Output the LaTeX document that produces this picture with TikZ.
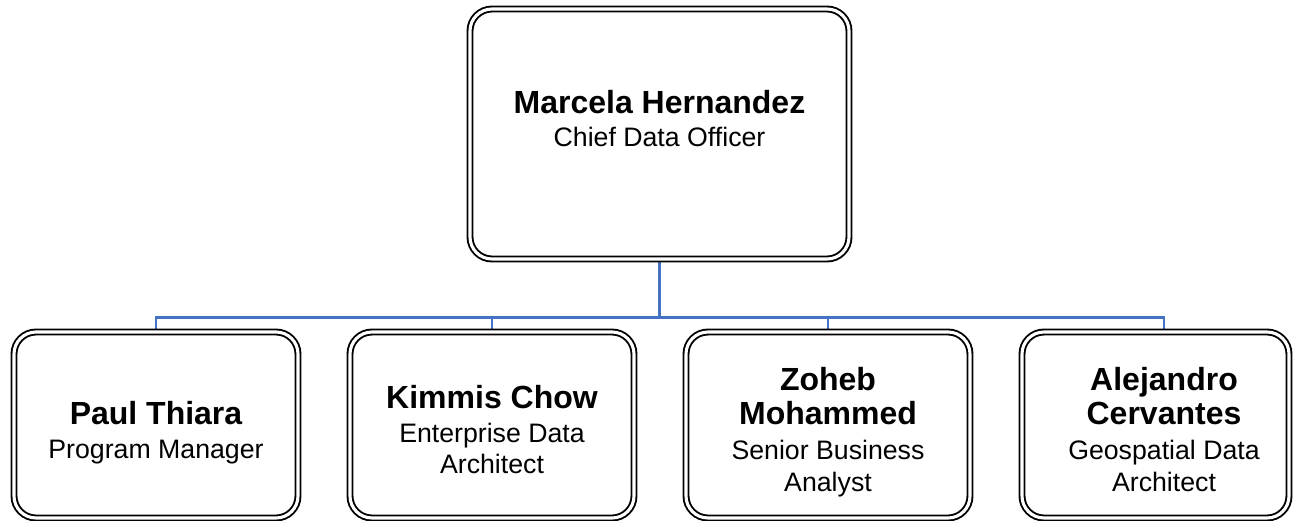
\documentclass[tikz,border=0pt]{standalone}
\usepackage{fontspec}
\setmainfont{Liberation Sans}
\usetikzlibrary{backgrounds}
\definecolor{connblue}{RGB}{68,114,196}
\begin{document}
\begin{tikzpicture}[x=1pt,y=-1pt,
  box/.style={draw=black, line width=1.9pt, double=white, double distance=3.1pt,
              rounded corners=22pt, fill=white, inner sep=0pt, minimum height=186pt},
  conn/.style={draw=connblue, line width=2.2pt},
  nm/.style={font=\fontsize{32}{36}\selectfont\bfseries, anchor=base, inner sep=0pt},
  rl/.style={font=\fontsize{26.7}{30}\selectfont, anchor=base, inner sep=0pt}]
\useasboundingbox (0,0) rectangle (1293,520);
% boxes
\node[box, minimum width=379pt, minimum height=250pt] (cdo) at (659.5,134) {};
\node[box, minimum width=284pt] (b1) at (156,425) {};
\node[box, minimum width=284pt] (b2) at (492,425) {};
\node[box, minimum width=284pt] (b3) at (828,425) {};
\node[box, minimum width=267pt] (b4) at (1155.5,425) {};
% connectors
\coordinate (bus) at (659.5,317.5);
\coordinate (b4top) at (1164,329);
\begin{scope}[on background layer]
\draw[conn] (cdo.south) -- (bus);
\draw[conn] (bus) -| (b1.north);
\draw[conn] (bus) -| (b2.north);
\draw[conn] (bus) -| (b3.north);
\draw[conn] (bus) -| (b4top);
\end{scope}
% texts
\node[nm] (t0a) at (659.5,113) {Marcela Hernandez};
\node[rl] (t0b) at (659.5,146) {Chief Data Officer};
\node[nm] (t1a) at (156,424) {Paul Thiara};
\node[rl] (t1b) at (156,458) {Program Manager};
\node[nm] (t2a) at (492,408) {Kimmis Chow};
\node[rl] (t2b) at (492,442) {Enterprise Data};
\node[rl] (t2c) at (492,473) {Architect};
\node[nm] (t3a) at (828,390) {Zoheb};
\node[nm] (t3b) at (828,424) {Mohammed};
\node[rl] (t3c) at (828,459) {Senior Business};
\node[rl] (t3d) at (828,491) {Analyst};
\node[nm] (t4a) at (1164,390) {Alejandro};
\node[nm] (t4b) at (1164,424) {Cervantes};
\node[rl] (t4c) at (1164,459) {Geospatial Data};
\node[rl] (t4d) at (1164,491) {Architect};
\end{tikzpicture}
\end{document}
